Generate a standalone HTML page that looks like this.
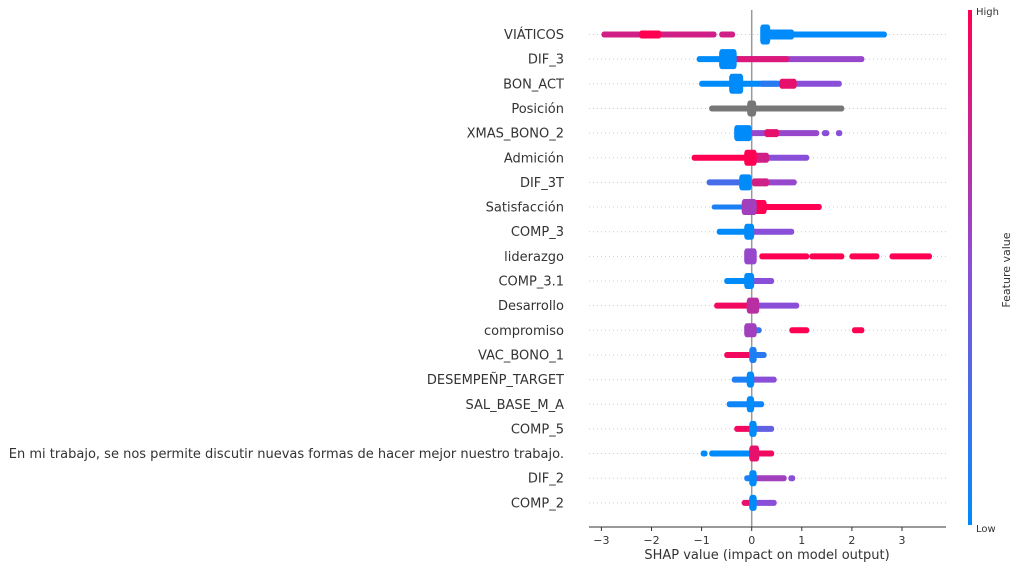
<!DOCTYPE html>
<html><head><meta charset="utf-8"><style>
body{margin:0;background:#fff;}
svg text{font-family:"DejaVu Sans","Liberation Sans",sans-serif;fill:#333;}
</style></head><body>
<svg id="chart" width="1021" height="568" viewBox="0 0 1021 568">
<defs><linearGradient id="cb" x1="0" y1="1" x2="0" y2="0">
<stop offset="0" stop-color="#008bfb"/><stop offset="0.5" stop-color="#8a4fd8"/><stop offset="1" stop-color="#ff0052"/></linearGradient></defs>
<g id="grid"></g><g id="zero"></g><g id="marks"></g><g id="labels"></g><g id="axis"></g>
<rect x="968" y="10" width="4" height="515" fill="url(#cb)"/>
<text x="976" y="15" font-size="10">High</text>
<text x="976" y="532" font-size="10">Low</text>
<text x="1010" y="270" font-size="11" text-anchor="middle" transform="rotate(-90 1010 270)">Feature value</text>
<text x="767" y="559" font-size="13" text-anchor="middle">SHAP value (impact on model output)</text>
</svg>
<script>
const features=["VIÁTICOS","DIF_3","BON_ACT","Posición","XMAS_BONO_2","Admición","DIF_3T","Satisfacción","COMP_3","liderazgo","COMP_3.1","Desarrollo","compromiso","VAC_BONO_1","DESEMPEÑP_TARGET","SAL_BASE_M_A","COMP_5","En mi trabajo, se nos permite discutir nuevas formas de hacer mejor nuestro trabajo.","DIF_2","COMP_2"];
const xTicks=[-3,-2,-1,0,1,2,3];
// segments per feature: [shapStart, shapEnd, featureValue(0..1, -1=gray), halfSpreadPx]
const segments=[
[[-2.95,-0.75,0.8,3],[-2.2,-1.85,1,4],[-0.6,-0.38,0.8,3],[0.3,2.65,0,3],[0.3,0.8,0,5],[0.22,0.32,0,10]],
[[-1.05,-0.3,0,3],[-0.3,2.2,0.55,3],[-0.3,0.7,0.85,3],[-0.6,-0.35,0,10]],
[[-1.0,0.5,0,3],[-0.4,-0.22,0,10],[0.2,0.8,0.15,3],[0.8,1.75,0.5,3],[0.6,0.85,0.9,5]],
[[-0.8,1.8,-1,3],[-0.04,0.04,-1,8]],
[[0,1.3,0.55,3],[0.3,0.5,0.9,4],[1.45,1.5,0.5,3],[1.73,1.76,0.5,3],[-0.3,-0.05,0,8]],
[[-1.15,-0.1,1,3],[0.3,1.1,0.5,3],[0.05,0.3,0.8,5],[-0.1,0.05,1,8]],
[[-0.85,-0.1,0.25,3],[0.3,0.85,0.55,3],[0.05,0.3,0.8,4],[-0.2,-0.05,0,8]],
[[-0.75,-0.2,0.1,2.5],[0.25,1.35,1,3],[0.05,0.25,1,7],[-0.15,0.05,0.6,8]],
[[-0.65,-0.1,0,3],[0,0.8,0.5,3],[-0.1,0,0,8]],
[[0.2,1.1,1,3],[1.2,1.8,1,3],[2.0,2.5,1,3],[2.8,3.55,1,3],[-0.1,0.05,0.55,8]],
[[-0.5,-0.1,0,3],[0,0.4,0.5,3],[-0.1,0,0,8]],
[[-0.7,-0.05,0.95,3],[0.1,0.9,0.5,3],[-0.05,0.1,0.7,8]],
[[0.05,0.15,0.2,3],[0.8,1.1,1,3],[2.05,2.2,1,3],[-0.1,0.05,0.6,7]],
[[-0.5,0,0.95,3],[0.05,0.25,0.15,3],[0,0.05,0.1,8]],
[[-0.35,0,0.1,3],[0.05,0.45,0.5,3],[-0.05,0,0,8]],
[[-0.45,0.2,0.05,3],[-0.05,0,0,8]],
[[-0.3,0,0.95,3],[0.05,0.4,0.35,3],[0,0.05,0,8]],
[[-0.97,-0.93,0,3],[-0.8,-0.05,0,3],[0.1,0.4,0.95,3],[0,0.1,0.9,8]],
[[-0.1,0,0.1,3],[0.05,0.65,0.6,3],[0.78,0.82,0.5,3],[0,0.05,0,8]],
[[-0.15,0,0.9,3],[0.05,0.45,0.5,3],[0,0.05,0,8]]
];
const NS="http://www.w3.org/2000/svg";
const x0=751.7,pxu=50.1,y0=34.5,rowH=24.65,gl=589,gr=946;
const xs=v=>x0+v*pxu, ys=i=>y0+i*rowH;
function col(c){if(c<0)return"#777";
const A=[0,139,251],M=[138,79,216],B=[255,0,82];let a,b,t;
if(c<0.5){a=A;b=M;t=c*2}else{a=M;b=B;t=(c-0.5)*2}
return`rgb(${a.map((v,i)=>Math.round(v+(b[i]-v)*t)).join(",")})`;}
function mk(tag,at,p){const e=document.createElementNS(NS,tag);for(const k in at)e.setAttribute(k,at[k]);p.appendChild(e);return e;}
const G=id=>document.getElementById(id);
features.forEach((f,i)=>{
 const y=ys(i);
 const g=mk("line",{x1:gl,x2:gr,y1:y,y2:y,stroke:"#ccc","stroke-width":1,"stroke-dasharray":"1 3"},G("grid"));
 
 
 const t=mk("text",{x:564,y:y+4.5,"font-size":13,"text-anchor":"end"},G("labels"));
 t.textContent=f;
 
 
 segments[i].forEach(s=>{
  const a=xs(s[0])-2.5,b=xs(s[1])+2.5,h=Math.max(2.5,s[3]);
  const r=mk("rect",{x:a,y:y-h,width:b-a,height:2*h,rx:2.5,ry:Math.min(h,4),fill:col(s[2])},G("marks"));
  
  
 });
});
const z=mk("line",{x1:xs(0),x2:xs(0),y1:10,y2:527,stroke:"#999","stroke-width":1.5},G("zero"));


const ax=mk("line",{x1:gl,x2:gr,y1:527,y2:527,stroke:"#333","stroke-width":1},G("axis"));


xTicks.forEach(v=>{
 const tk=mk("line",{x1:xs(v),x2:xs(v),y1:527,y2:531,stroke:"#333"},G("axis"));
 
 
 const tl=mk("text",{x:xs(v),y:544,"font-size":11,"text-anchor":"middle"},G("axis"));
 tl.textContent=v<0?"\u2212"+Math.abs(v):String(v);
 
 
});
</script>
</body></html>
